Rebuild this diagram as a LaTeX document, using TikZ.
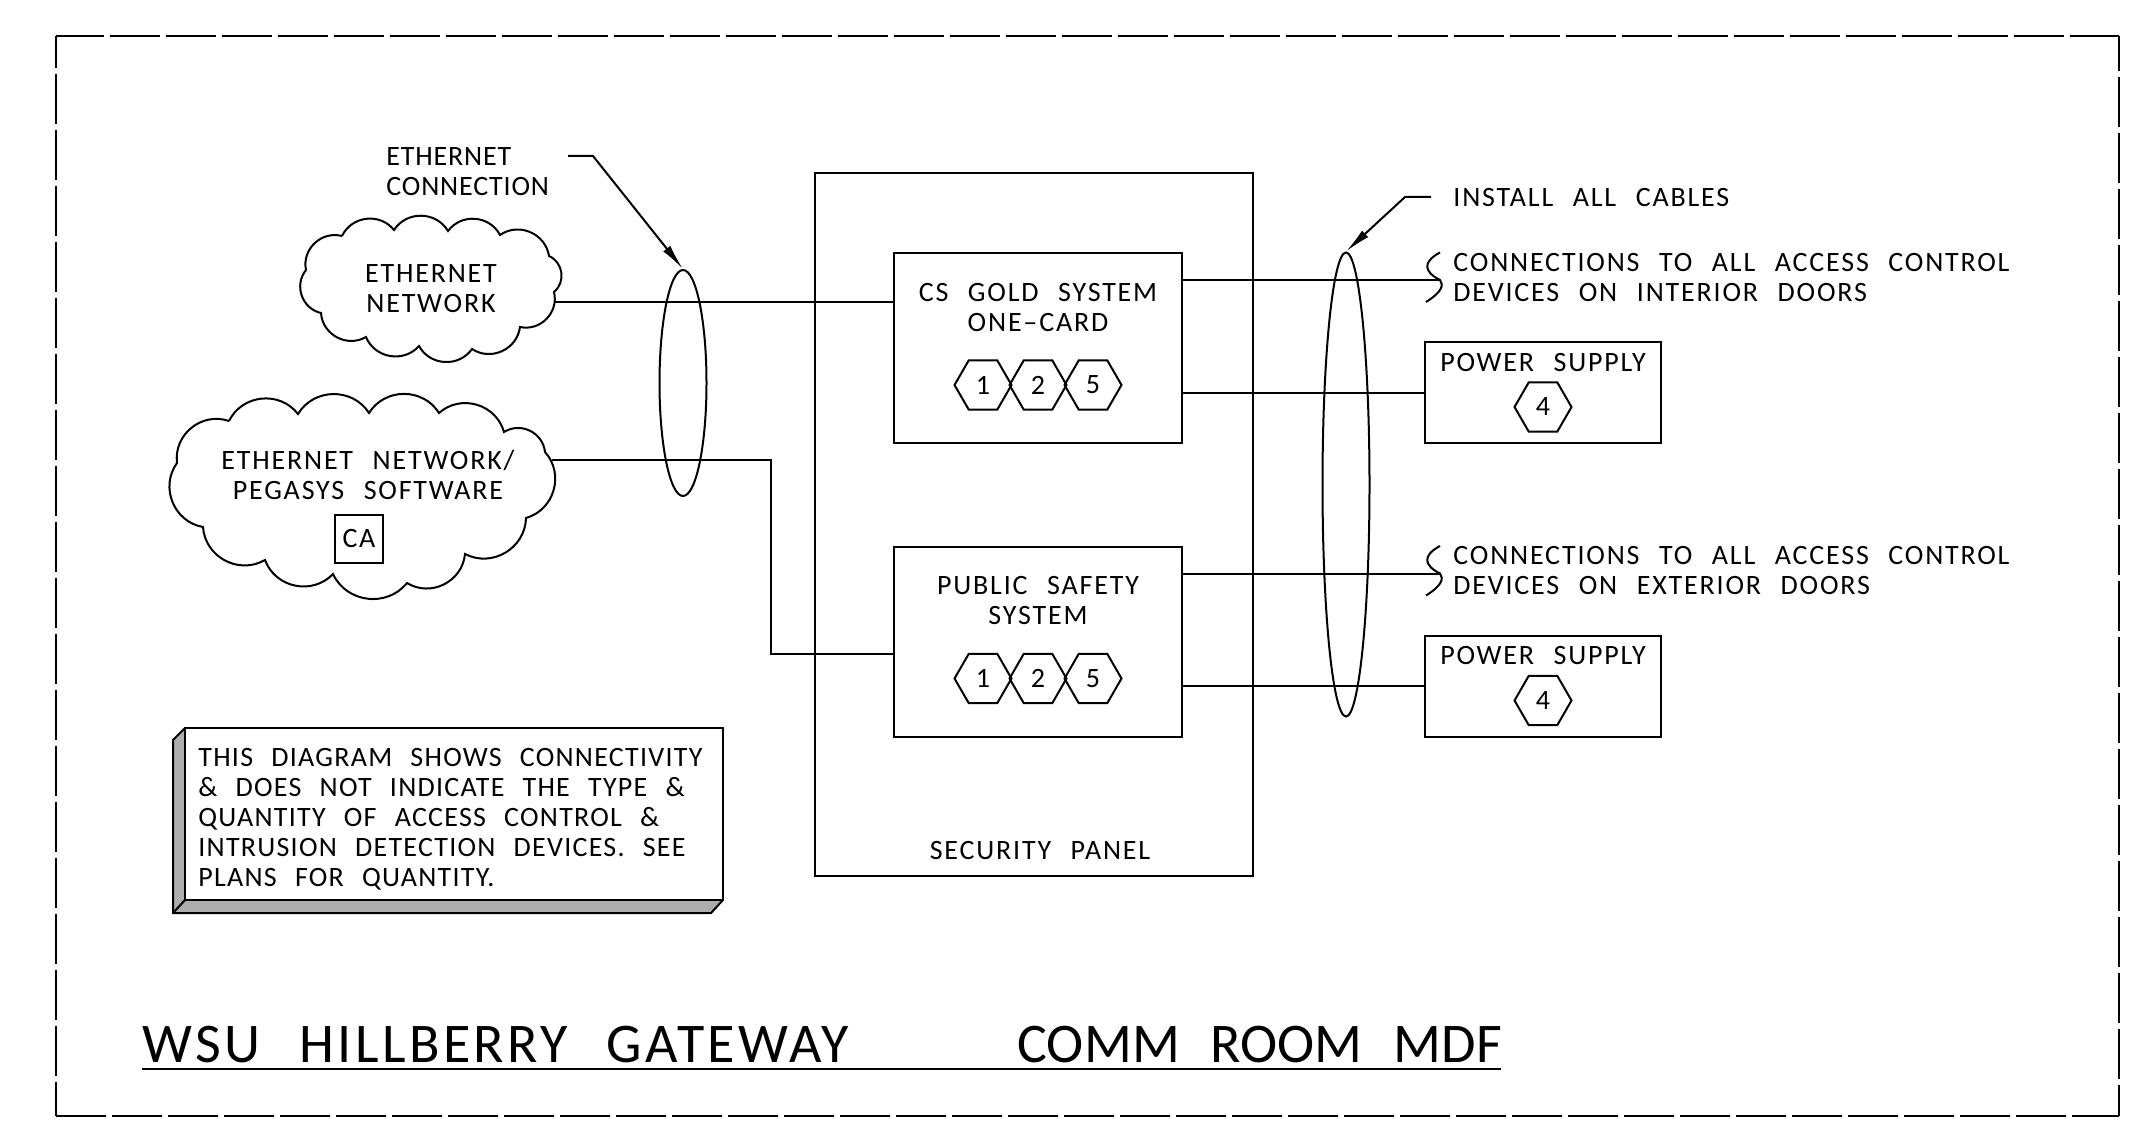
\documentclass[tikz,border=0pt]{standalone}
\usepackage{fontspec}
\setmainfont[WordSpace=2.4,LetterSpace=6.5]{Carlito}
\usetikzlibrary{arrows.meta,positioning,calc,shapes.geometric}
\tikzset{
	wire/.style={line width=1pt},
	outline/.style={draw, line width=1pt, inner sep=0pt},
	lbl/.style={inner sep=0pt, align=center, yshift=-0.25pt, font=\fontsize{14}{15}\selectfont},
	lblleft/.style={lbl, align=left, anchor=west},
	tightlbl/.style={font=\fontsize{14}{15}\selectfont\addfontfeature{LetterSpace=#1}},
	titlelbl/.style={inner sep=0pt, anchor=west, font=\fontsize{28}{30}\selectfont\addfontfeature{LetterSpace=#1}},
	hexnum/.style={draw, line width=1pt, regular polygon, regular polygon sides=6, minimum size=28.5pt, inner sep=0pt, font=\fontsize{14}{15}\selectfont},
	cable/.style={draw, ellipse, line width=1pt, inner sep=0pt},
	leader/.style={line width=1pt, -{Latex[length=13pt,width=4.5pt]}},
	sheet/.style={line width=1.2pt, dash pattern=on 25pt off 3pt},
	puff/.style={bend left=58, looseness=1.1}
}
\begin{document}
\begin{tikzpicture}[x=0.5pt,y=-0.5pt]
	\useasboundingbox (0,0) rectangle (2140,1123);
	% sheet border
	\coordinate (cornertl) at (56,36);
	\coordinate (cornertr) at (2119,36);
	\coordinate (cornerbr) at (2119,1116);
	\coordinate (cornerbl) at (56,1116);
	\draw[sheet, dash phase=1pt] (cornertl) -- (cornertr);
	\draw[sheet, dash phase=9pt] (cornertl) -- (cornerbl);
	\draw[sheet, dash phase=9.5pt] (cornerbr) -- (cornertr);
	\draw[sheet, dash phase=1.5pt] (cornerbr) -- (cornerbl);
	% clouds
	\draw[line width=1pt] (342,236) to[puff] (394,230) to[puff] (448,231) to[puff] (500,235) to[puff] (549,256)
		to[puff] (554,292) to[puff] (520,327) to[puff] (472,349) to[puff] (419,346) to[puff] (366,337)
		to[puff] (321,313) to[puff] (306,270) to[puff] (342,236);
	\draw[line width=1pt] (229,421) to[puff] (298,414) to[puff] (369,413) to[puff] (439,413) to[puff] (504,432)
		to[puff] (545,452) to[puff] (526,518) to[puff] (465,554) to[puff] (407,583) to[puff] (333,574)
		to[puff] (265,560) to[puff] (203,527) to[puff] (177,463) to[puff] (229,421);
	\coordinate (neta) at (555,302);
	\coordinate (netb) at (552,460);
	\node[lbl] (netatxt) at (431,288) {ETHERNET\\NETWORK};
	\node[lbl] (netbtxt) at (368,474) {ETHERNET NETWORK/\\PEGASYS SOFTWARE};
	\node[outline, lbl, draw, minimum width=24pt, minimum height=24pt] (ca) at (359,538) {CA};
	% panel and systems
	\node[outline, minimum width=219pt, minimum height=351.5pt] (panel) at (1034,524.5) {};
	\node[lbl] (paneltxt) at (1040,850) {SECURITY PANEL};
	\node[outline, minimum width=144pt, minimum height=95pt] (gold) at (1038,348) {};
	\node[lbl] (goldtxt) at (1038,307) {CS GOLD SYSTEM\\ONE--CARD};
	\node[hexnum] (golda) at (983,385) {1};
	\node[hexnum] (goldb) at (1038,385) {2};
	\node[hexnum] (goldc) at (1093,385) {5};
	\node[outline, minimum width=144pt, minimum height=95pt] (safe) at (1038,641.5) {};
	\node[lbl] (safetxt) at (1038,600.5) {PUBLIC SAFETY\\SYSTEM};
	\node[hexnum] (safea) at (983,678.5) {1};
	\node[hexnum] (safeb) at (1038,678.5) {2};
	\node[hexnum] (safec) at (1093,678.5) {5};
	% power supplies
	\node[outline, minimum width=118pt, minimum height=50.5pt] (powa) at (1543,392.5) {};
	\node[lbl] (powatxt) at (1543,362) {POWER SUPPLY};
	\node[hexnum] (powahex) at (1543,407) {4};
	\node[outline, minimum width=118pt, minimum height=50.5pt] (powb) at (1543,686) {};
	\node[lbl] (powbtxt) at (1543,655.5) {POWER SUPPLY};
	\node[hexnum] (powbhex) at (1543,700.5) {4};
	% cable bundles
	\node[cable, minimum width=23.5pt, minimum height=113pt] (bunla) at (683,383) {};
	\node[cable, minimum width=23.5pt, minimum height=232pt] (bunlb) at (1346,484.5) {};
	% labels
	\node[lblleft, tightlbl=3] (ethlbl) at (386,171) {ETHERNET\\CONNECTION};
	\coordinate (ethlead) at (568,156);
	\node[lblleft] (instlbl) at (1453,197) {INSTALL ALL CABLES};
	\coordinate (instlead) at (1431,197);
	\node[lblleft] (intlbl) at (1453,277) {CONNECTIONS TO ALL ACCESS CONTROL\\DEVICES ON INTERIOR DOORS};
	\node[lblleft] (extlbl) at (1453,570.5) {CONNECTIONS TO ALL ACCESS CONTROL\\DEVICES ON EXTERIOR DOORS};
	% cable ends
	\coordinate (inta) at (1440,280);
	\coordinate (exta) at (1440,573.5);
	\draw[wire] (1440,252.5) .. controls (1422,262) and (1424,272) .. (inta) .. controls (1444,285) and (1442,292) .. (1426,302);
	\draw[wire] (1440,546) .. controls (1422,555.5) and (1424,565.5) .. (exta) .. controls (1444,578.5) and (1442,585.5) .. (1426,595.5);
	% connections
	\draw[wire] (neta) -- (gold.west |- neta);
	\draw[wire] (netb) -| (771,654) -- (safe.west |- 771,654);
	\draw[wire] (gold.east |- inta) -- (inta);
	\draw[wire] (gold.east |- powa) -- (powa.west);
	\draw[wire] (safe.east |- exta) -- (exta);
	\draw[wire] (safe.east |- powb) -- (powb.west);
	\draw[leader] (ethlead) -- ++(25,0) -- (bunla.north);
	\draw[leader] (instlead) -- ++(-26,0) -- (bunlb.north);
	% note box
	\fill[black!32] (185,728) -- (173,740) -- (173,913) -- (711,913) -- (723,900) -- (185,900) -- cycle;
	\draw[line width=1pt] (185,728) -- (173,740) -- (173,913) -- (711,913) -- (723,900);
	\draw[line width=1pt] (173,913) -- (185,900);
	\node[outline, minimum width=269pt, minimum height=86pt] (note) at (454,814) {};
	\node[lblleft, tightlbl=4.5] (notetxt) at (198,818.5) {THIS DIAGRAM SHOWS CONNECTIVITY\\\& DOES NOT INDICATE THE TYPE \&\\QUANTITY OF ACCESS CONTROL \&\\INTRUSION DETECTION DEVICES. SEE\\PLANS FOR QUANTITY.};
	% title
	\node[titlelbl=6.2] (titlea) at (142,1045) {WSU HILLBERRY GATEWAY};
	\node[titlelbl=0.2] (titleb) at (1017,1045) {COMM ROOM MDF};
	\draw[line width=1pt] (titlea.west |- 0,1069) -- (1501,1069);
\end{tikzpicture}
\end{document}
